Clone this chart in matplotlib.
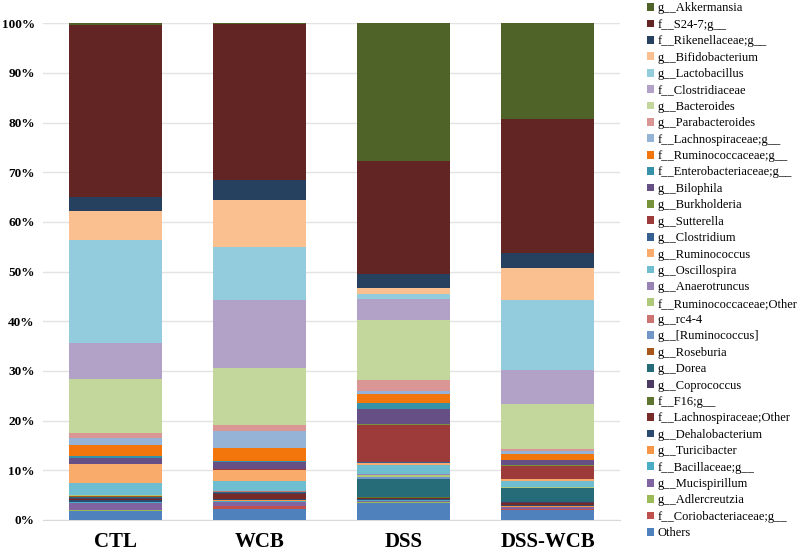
import numpy as np
import matplotlib
matplotlib.use("Agg")
import matplotlib.pyplot as plt

groups = ["CTL", "WCB", "DSS", "DSS-WCB"]

# taxa from the bottom of the stack to the top
taxa = [
    "Others", "f__Coriobacteriaceae;g__", "g__Adlercreutzia", "g__Mucispirillum",
    "f__Bacillaceae;g__", "g__Turicibacter", "g__Dehalobacterium",
    "f__Lachnospiraceae;Other", "f__F16;g__", "g__Coprococcus", "g__Dorea",
    "g__Roseburia", "g__[Ruminococcus]", "g__rc4-4", "f__Ruminococcaceae;Other",
    "g__Anaerotruncus", "g__Oscillospira", "g__Ruminococcus", "g__Clostridium",
    "g__Sutterella", "g__Burkholderia", "g__Bilophila", "f__Enterobacteriaceae;g__",
    "f__Ruminococcaceae;g__", "f__Lachnospiraceae;g__", "g__Parabacteroides",
    "g__Bacteroides", "f__Clostridiaceae", "g__Lactobacillus", "g__Bifidobacterium",
    "f__Rikenellaceae;g__", "f__S24-7;g__", "g__Akkermansia",
]

# relative abundance (%) per taxon, same order as taxa
ctl = [1.8, 0.1, 0.15, 1.45, 0.1, 0.1, 0.3, 0.15, 0.05, 0.25, 0.25, 0.05, 0.05,
       0.05, 0.1, 0.1, 2.5, 3.7, 0.03, 0.04, 0.03, 1.1, 0.4, 2.3, 1.3, 1.0,
       11.0, 7.3, 20.6, 6.0, 2.7, 34.7, 0.4]
wcb = [2.2, 0.6, 0.1, 0.7, 0.3, 0.1, 0.2, 1.0, 0.1, 0.2, 0.1, 0.05, 0.05,
       0.05, 0.1, 0.05, 1.9, 2.2, 0.1, 0.15, 0.05, 1.3, 0.2, 2.6, 3.5, 1.2,
       11.5, 13.6, 10.7, 9.6, 3.9, 31.5, 0.1]
dss = [3.4, 0.1, 0.1, 0.3, 0.1, 0.1, 0.1, 0.3, 0.05, 0.05, 3.6, 0.1, 0.3,
       0.1, 0.4, 0.2, 1.8, 0.4, 0.1, 7.6, 0.05, 3.0, 1.2, 1.9, 0.5, 2.4,
       11.9, 4.3, 1.1, 1.2, 2.7, 22.8, 27.7]
dss_wcb = [2.0, 0.2, 0.1, 0.3, 0.1, 0.1, 0.2, 0.4, 0.1, 0.2, 2.7, 0.05, 0.05,
           0.05, 0.1, 0.05, 1.1, 0.4, 0.1, 2.7, 0.05, 1.0, 0.1, 1.1, 0.6, 0.6,
           9.1, 6.7, 14.3, 6.3, 3.1, 27.1, 19.4]

colors = [
    "#4F81BD", "#C0504D", "#9BBB59", "#8064A2", "#4BACC6", "#F79646",
    "#2B4A70", "#772B29", "#5E7530", "#4B3A62", "#266B78", "#A8561A",
    "#7295CA", "#CD7371", "#AFC97A", "#9983B5", "#6FBDD1", "#F9AB6B",
    "#376092", "#9C3B39", "#77933C", "#664F85", "#3592A8", "#F2760B",
    "#95B3D7", "#D99694", "#C3D69B", "#B3A2C7", "#93CDDD", "#FAC090",
    "#26405F", "#632523", "#4F6228",
]

data = np.array([ctl, wcb, dss, dss_wcb])
data = data / data.sum(axis=1, keepdims=True) * 100

fig = plt.figure(figsize=(8, 5.52), dpi=100)
ax = fig.add_axes([0.054, 0.058, 0.721, 0.9])

x = np.arange(len(groups))
bottom = np.zeros(len(groups))
bars = []
for i, name in enumerate(taxa):
    b = ax.bar(x, data[:, i], 0.645, bottom=bottom, color=colors[i],
               label=name, edgecolor="none", zorder=3)
    bars.append(b)
    bottom += data[:, i]

ax.set_xlim(-0.5, 3.5)
ax.set_ylim(0, 100)
ax.set_yticks(range(0, 101, 10))
ax.set_yticklabels([f"{v}%" for v in range(0, 101, 10)],
                   fontfamily="Liberation Serif", fontweight="bold", fontsize=9.5)
ax.set_xticks(x)
ax.set_xticklabels(groups, fontfamily="Liberation Serif", fontweight="bold", fontsize=15)
ax.tick_params(length=0, pad=6)
ax.tick_params(axis="x", pad=9)
ax.yaxis.grid(True, color="#E3E3E3", linewidth=1, zorder=0)
for s in ["top", "right", "left"]:
    ax.spines[s].set_visible(False)
ax.spines["bottom"].set_color("#D9D9D9")

fig.legend(bars[::-1], taxa[::-1], loc="upper left", bbox_to_anchor=(0.805, 1.0),
           frameon=False, prop={"family": "Liberation Serif", "size": 9},
           handlelength=0.6, handleheight=0.6, handletextpad=0.3,
           labelspacing=0.352, borderaxespad=0, borderpad=0.2)

fig.savefig("out.png", dpi=100)
